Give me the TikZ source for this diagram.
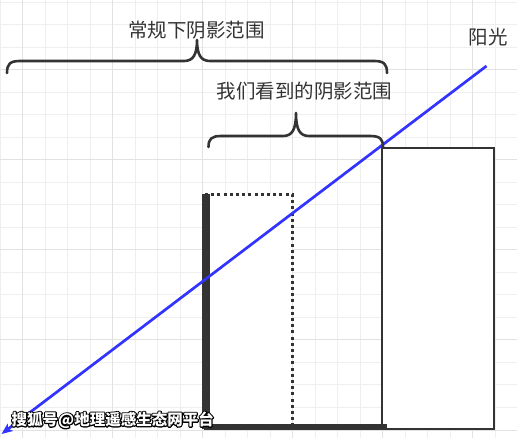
\documentclass[tikz,border=0pt]{standalone}
\usepackage{fontspec}
\newfontfamily\cjk{Noto Sans CJK SC}
\usetikzlibrary{arrows.meta}
\definecolor{ink}{HTML}{333333}
\definecolor{sun}{HTML}{3333FF}
\definecolor{gridminor}{HTML}{EFEFEF}
\definecolor{gridmajor}{HTML}{E2E2E2}
\newcommand{\outlined}[1]{\special{pdf:literal direct 0 0 0 RG 2.2 w 1 j 2 Tr}#1\special{pdf:literal direct 0 Tr}}
\begin{document}
\begin{tikzpicture}[x=1pt,y=-1pt,
  brace/.style={draw=ink,line width=2.6pt,line cap=round,line join=round},
  lbl/.style={font=\cjk\fontsize{19.5}{22}\selectfont, text=ink, inner sep=0pt},
  wm/.style={font=\cjk\bfseries\fontsize{15.5}{18}\selectfont, inner sep=0pt, anchor=west},
  box/.style={draw=ink, line width=2.2pt, fill=white}]
\fill[white] (0,0) rectangle (517,438);
\useasboundingbox (0,0) rectangle (517,438);
% grid
\foreach \k in {0,...,22} \draw[gridminor, line width=1pt] ({0.2+22.5*\k},0) -- ({0.2+22.5*\k},438);
\foreach \k in {0,...,19} \draw[gridminor, line width=1pt] (0,{2.5+22.5*\k}) -- (517,{2.5+22.5*\k});
\foreach \k in {1,5,...,21} \draw[gridmajor, line width=1pt] ({0.2+22.5*\k},0) -- ({0.2+22.5*\k},438);
\foreach \k in {3,7,...,19} \draw[gridmajor, line width=1pt] (0,{2.5+22.5*\k}) -- (517,{2.5+22.5*\k});
% building
\draw[box] (382.3,147.7) rectangle (494.3,429);
% dotted rectangle
\draw[box, dash pattern=on 3pt off 3.2pt, line width=2.4pt] (205,194.5) rectangle (292.3,428);
% ground shadow
\fill[ink] (204,424) rectangle (386.5,429.5);
% pole
\fill[ink] (202,194) rectangle (209.5,429);
% sunlight
\coordinate (sunA) at (486.5,66);
\coordinate (sunB) at (1.5,434);
\draw[sun, line width=2.7pt, -{Stealth[length=11pt,width=9pt,inset=2.5pt]}] (sunA) -- (sunB);
% braces
\draw[brace] (7,73) .. controls (7,64) and (10,61) .. (20,61) -- (184,61)
  .. controls (193,61) and (197,55) .. (197,40)
  .. controls (197,55) and (201,61) .. (210,61) -- (374,61)
  .. controls (384,61) and (387,64) .. (387,73);
\draw[brace] (208.5,147) .. controls (208.5,139) and (211.5,136) .. (221,136) -- (283,136)
  .. controls (292,136) and (296,130) .. (296,113)
  .. controls (296,130) and (300,136) .. (309,136) -- (370,136)
  .. controls (380,136) and (383,139) .. (383,147);
% labels
\node[lbl] (normal) at (196.5,30) {常规下阴影范围};
\node[lbl] (seen) at (304.7,91.5) {我们看到的阴影范围};
\node[lbl] (sunlbl) at (488.3,37) {阳光};
% watermark: black outline layer, then white fill
\node[wm, text=black] (wmback) at (11.5,420) {\outlined{搜狐号@地理遥感生态网平台}};
\node[wm, text=white] (wm) at (11.5,420) {搜狐号@地理遥感生态网平台};
\end{tikzpicture}
\end{document}
